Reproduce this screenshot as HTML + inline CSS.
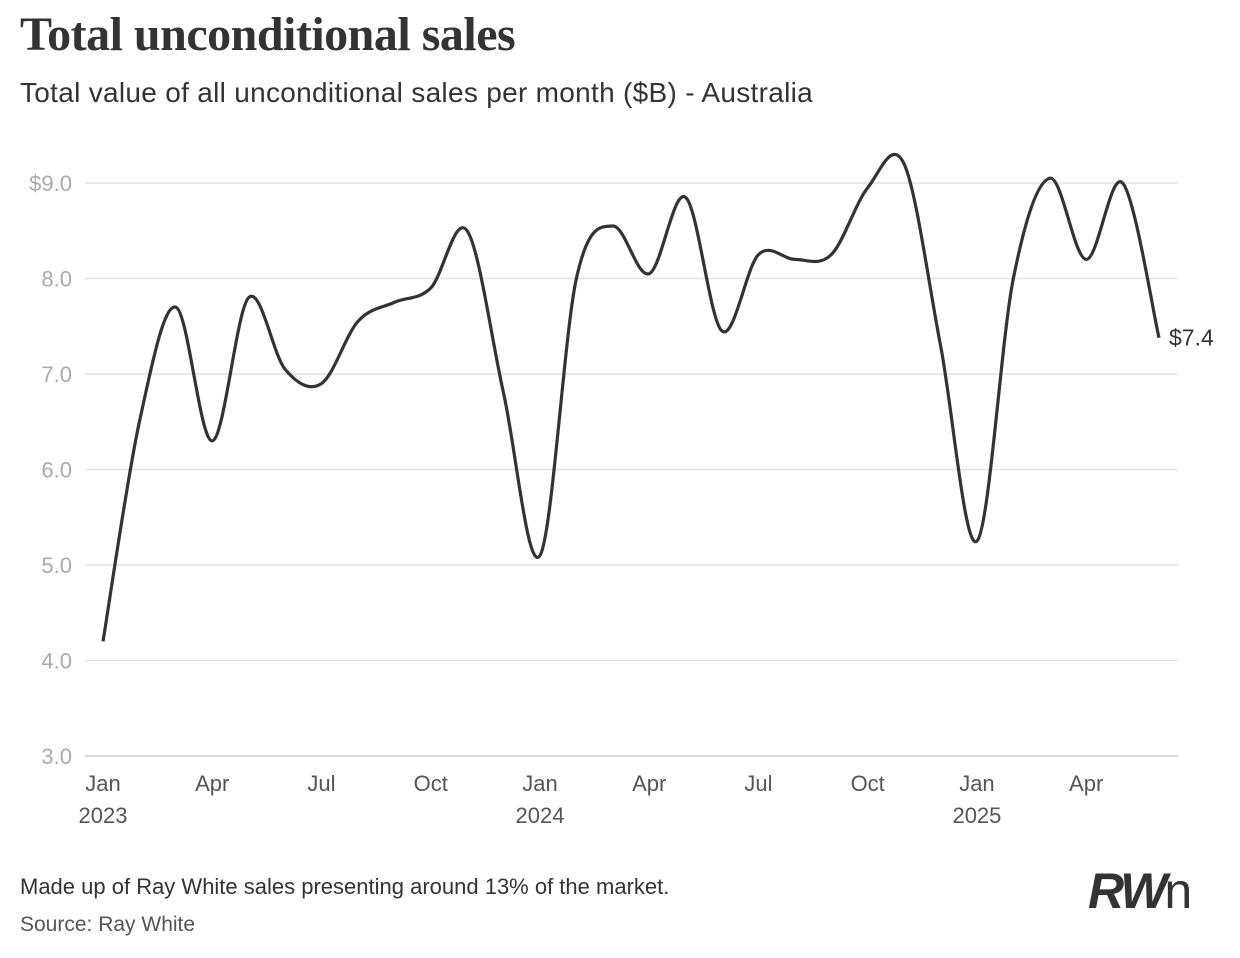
<!DOCTYPE html>
<html><head><meta charset="utf-8"><style>
body{margin:0;background:#fff;width:1240px;height:958px;overflow:hidden;font-family:"Liberation Sans",sans-serif;}
.t{position:absolute;left:20px;top:7px;font-family:"Liberation Serif",serif;font-weight:bold;font-size:48px;color:#333;letter-spacing:-0.5px}
.s{position:absolute;left:20px;top:77px;font-size:28px;color:#333;letter-spacing:0.3px}
.f{position:absolute;left:20px;font-size:21px;color:#333}
.logo{position:absolute;left:1088px;top:862px;font-size:50px;font-weight:bold;font-style:italic;color:#333;letter-spacing:-3px}
</style></head><body>
<div class="t">Total unconditional sales</div>
<div class="s">Total value of all unconditional sales per month ($B) - Australia</div>
<svg id="c" width="1240" height="958" style="position:absolute;left:0;top:0"></svg>
<div class="f" style="top:874px;font-size:22px">Made up of Ray White sales presenting around 13% of the market.</div>
<div class="f" style="top:913px;color:#555">Source: Ray White</div>
<div class="logo">RW<span style="font-weight:normal;font-style:normal;letter-spacing:0">n</span></div>
<script>
const months=["Jan 2023","Feb 2023","Mar 2023","Apr 2023","May 2023","Jun 2023","Jul 2023","Aug 2023","Sep 2023","Oct 2023","Nov 2023","Dec 2023","Jan 2024","Feb 2024","Mar 2024","Apr 2024","May 2024","Jun 2024","Jul 2024","Aug 2024","Sep 2024","Oct 2024","Nov 2024","Dec 2024","Jan 2025","Feb 2025","Mar 2025","Apr 2025","May 2025","Jun 2025"];
const values=[4.2,6.5,7.7,6.3,7.8,7.05,6.9,7.55,7.75,7.9,8.5,6.8,5.1,8.0,8.55,8.05,8.85,7.45,8.25,8.2,8.25,8.95,9.2,7.3,5.25,8.0,9.05,8.2,9.0,7.38];
const yTicks=[3,4,5,6,7,8,9];
const xTickIdx=[0,3,6,9,12,15,18,21,24,27];
const xTickLabels=["Jan","Apr","Jul","Oct","Jan","Apr","Jul","Oct","Jan","Apr"];
const yearLabels=["2023","","","","2024","","","","2025",""];
const NS="http://www.w3.org/2000/svg";
const svg=document.getElementById('c');
const x=i=>103+i*(1159-103)/29;
const y=v=>756-(v-3)*(756-183)/6;
function mk(t,a){const e=document.createElementNS(NS,t);for(const k in a)e.setAttribute(k,a[k]);svg.appendChild(e);return e;}
yTicks.forEach(v=>{
 const l=mk('line',{x1:85,x2:1178,y1:y(v),y2:y(v),stroke:v===3?'#ccc':'#e2e2e2','stroke-width':1.5});
 
 
 const t=mk('text',{x:72,y:y(v)+8,'text-anchor':'end','font-size':22,fill:'#aaa','font-family':'Liberation Sans, sans-serif'});
 t.textContent=(v===9?'$':'')+v.toFixed(1);
 
 
});
xTickIdx.forEach((idx,k)=>{
 const t=mk('text',{x:x(idx),y:791,'text-anchor':'middle','font-size':22,fill:'#555','font-family':'Liberation Sans, sans-serif'});
 t.textContent=xTickLabels[k];
 
 
 if(yearLabels[k]){
  const t2=mk('text',{x:x(idx),y:823,'text-anchor':'middle','font-size':22,fill:'#555','font-family':'Liberation Sans, sans-serif'});
  t2.textContent=yearLabels[k];
  
  
 }
});
const P=values.map((v,i)=>[x(i),y(v)]);
let d='M'+P[0][0]+','+P[0][1];
for(let i=0;i<P.length-1;i++){
 const p0=P[Math.max(0,i-1)],p1=P[i],p2=P[i+1],p3=P[Math.min(P.length-1,i+2)];
 const c1=[p1[0]+(p2[0]-p0[0])/6,p1[1]+(p2[1]-p0[1])/6];
 const c2=[p2[0]-(p3[0]-p1[0])/6,p2[1]-(p3[1]-p1[1])/6];
 d+=`C${c1[0]},${c1[1]} ${c2[0]},${c2[1]} ${p2[0]},${p2[1]}`;
}
const path=mk('path',{d:d,fill:'none',stroke:'#333','stroke-width':3.2,'stroke-linejoin':'round'});


const last=values[values.length-1];
const lab=mk('text',{x:x(29)+10,y:y(last)+8,'font-size':23,fill:'#333','font-family':'Liberation Sans, sans-serif'});
lab.textContent='$'+last.toFixed(1);


</script>
</body></html>
